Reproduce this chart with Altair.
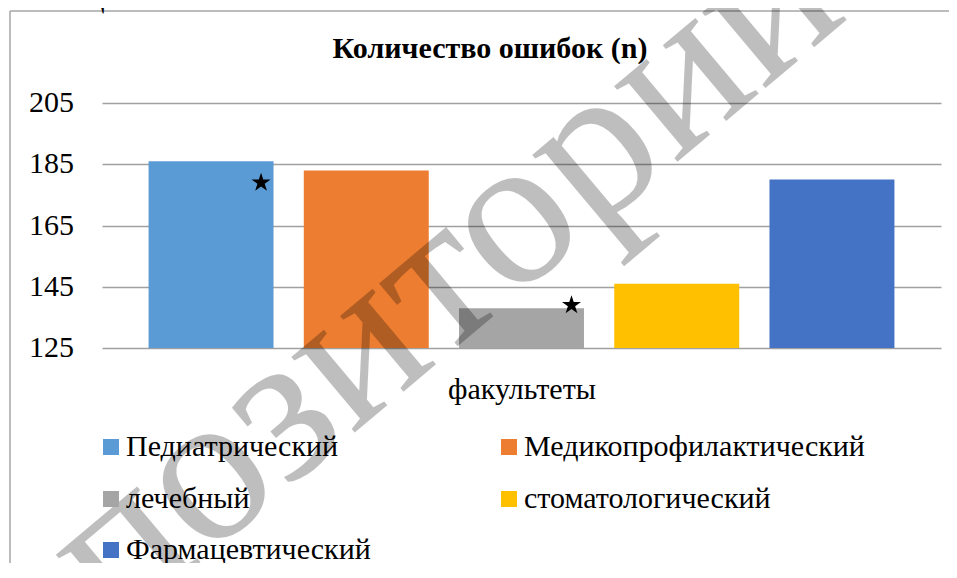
import altair as alt
import pandas as pd

# ---- data ----
faculties = ["Педиатрический", "Медикопрофилактический", "лечебный", "стоматологический", "Фармацевтический"]
errors = [186, 183, 138, 146, 180]
colors = ["#5B9BD5", "#ED7D31", "#A5A5A5", "#FFC000", "#4472C4"]
star_faculties = ["Педиатрический", "лечебный"]
star_values = [179, 139]
y_ticks = [125, 145, 165, 185, 205]
y_domain = [125, 205]
title_text = "Количество ошибок (n)"
x_title = "факультеты"
table_label = "Таблица 2"
watermark = "репозиторий"

# ---- layout of the legend: rows of two ----
legend_rows = [0, 0, 1, 1, 2]
legend_cols = [0, 1, 0, 1, 0]
legend_x = [-6, 392]
legend_y = [329, 381, 432]

# serif font, one spelling per text element
title_font = "Times New Roman"
xtitle_font = "Liberation Serif"
wm_font = "serif"
table_font = "Liberation Serif, Times"
ytick_fonts = ["Times", "'Liberation Serif'", "'Times New Roman'", "Liberation Serif, serif", "Times New Roman, serif"]
legend_fonts = ["'Times'", "'Liberation Serif', serif", "'Times New Roman', serif", "Times, serif", "serif, Times"]

STAR = ("M0,-1L0.2245,-0.309L0.951,-0.309L0.363,0.118L0.588,0.809L0,0.382"
        "L-0.588,0.809L-0.363,0.118L-0.951,-0.309L-0.2245,-0.309Z")

bars_df = pd.DataFrame({"faculty": faculties, "errors": errors})
stars_df = pd.DataFrame({"faculty": star_faculties, "value": star_values})

x_scale = alt.Scale(domain=faculties, paddingInner=0.195, paddingOuter=0.3)
y_scale = alt.Scale(domain=y_domain, nice=False, zero=False)

x_axis = alt.Axis(labels=False, ticks=False, domain=False, title=x_title,
                  titleFont=xtitle_font, titleFontSize=30, titleFontWeight="normal",
                  titleColor="#000", titlePadding=26)
y_axis = alt.Axis(values=y_ticks, title=None, domain=False, ticks=False, labels=False,
                  grid=True, gridColor="#a0a0a0", gridWidth=1.3)

bar_layers = []
for i, (fac, col) in enumerate(zip(faculties, colors)):
    bar_layers.append(
        alt.Chart(bars_df).transform_filter(alt.datum.faculty == fac).mark_bar().encode(
            x=alt.X("faculty:N", scale=x_scale, axis=x_axis),
            y=alt.Y("errors:Q", scale=y_scale, axis=y_axis),
            y2=alt.datum(y_domain[0]),
            color=alt.Color("faculty:N", scale=alt.Scale(domain=[fac], range=[col]),
                            legend=alt.Legend(orient="none",
                                              legendX=legend_x[legend_cols[i]],
                                              legendY=legend_y[legend_rows[i]],
                                              title=None, symbolType="square", symbolSize=256,
                                              symbolStrokeWidth=0, labelFont=legend_fonts[i],
                                              labelFontSize=30, labelColor="#000",
                                              labelOffset=0, labelLimit=600, padding=0)),
        )
    )

stars = alt.Chart(stars_df).mark_point(
    shape=STAR, filled=True, size=400, color="black", opacity=1, xOffset=50
).encode(
    x=alt.X("faculty:N", scale=x_scale),
    y=alt.Y("value:Q", scale=y_scale),
)

tick_layers = []
for i, v in enumerate(y_ticks):
    tick_layers.append(
        alt.Chart(pd.DataFrame({"v": [v], "t": [str(v)]})).mark_text(
            font=ytick_fonts[i], fontSize=30, color="#000", align="right", baseline="middle"
        ).encode(x=alt.value(-28), y=alt.Y("v:Q", scale=y_scale), text="t:N")
    )

one = pd.DataFrame({"k": [0]})
frame_v = alt.Chart(one).mark_rule(color="#a6a6a6", strokeWidth=1.5).encode(
    x=alt.value(-92), y=alt.value(-92), y2=alt.value(460))
frame_h = alt.Chart(one).mark_rule(color="#a6a6a6", strokeWidth=1.5).encode(
    x=alt.value(-92), x2=alt.value(860), y=alt.value(-92))

label = alt.Chart(pd.DataFrame({"t": [table_label]})).mark_text(
    font=table_font, fontSize=30, color="#000", align="left", baseline="alphabetic"
).encode(text="t:N", x=alt.value(-90), y=alt.value(-95))

title = alt.Chart(pd.DataFrame({"t": [title_text]})).mark_text(
    font=title_font, fontSize=30, fontWeight="bold", color="#000", align="center",
    baseline="alphabetic"
).encode(text="t:N", x=alt.value(388), y=alt.value(-45))

wm = alt.Chart(pd.DataFrame({"t": [watermark]})).mark_text(
    font=wm_font, fontSize=215, angle=320, color="black", opacity=0.25,
    align="center", baseline="middle"
).encode(text="t:N", x=alt.value(262), y=alt.value(237))

chart = alt.layer(
    frame_v, frame_h, label, title, *bar_layers, stars, *tick_layers, wm
).resolve_scale(color="independent").resolve_legend(color="independent").properties(
    width=839, height=245,
    background="white",
    view=alt.ViewBackground(stroke=None),
    autosize=alt.AutoSizeParams(type="none"),
    padding={"left": 94, "top": 95, "right": 8, "bottom": 215},
)

chart.save("out.html", embed_options={"renderer": "svg", "actions": False})
